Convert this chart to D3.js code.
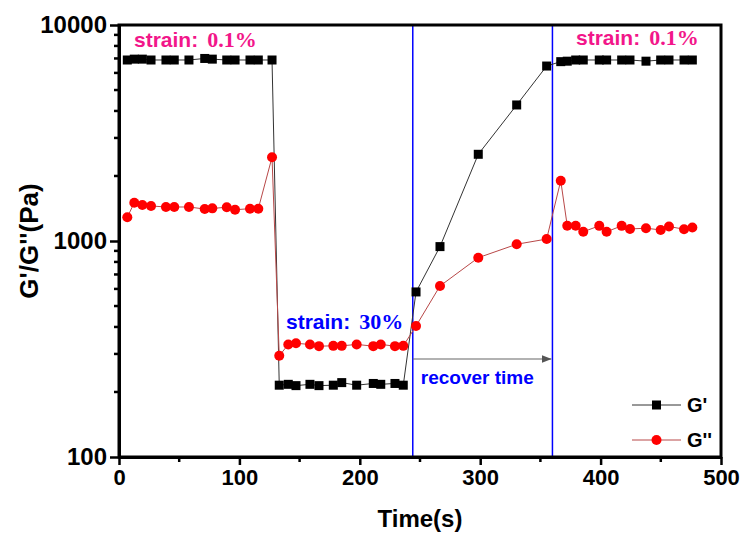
<!DOCTYPE html>
<html>
<head>
<meta charset="utf-8">
<script src="https://cdn.jsdelivr.net/npm/d3@7"></script>
<style>
  body { margin: 0; background: #fff; }
  text { font-family: "Liberation Sans", Arial, sans-serif; font-weight: bold; }
</style>
</head>
<body>
<div id="chart"></div>
<script>
// time (s) of each measurement, shared by both moduli
const time = [6.9, 12.7, 19.4, 26.6, 39, 45.9, 58.1, 71.2, 77.5, 89.5, 96.4, 108.8, 115.7, 127.1,
  133.1, 140.6, 147, 158.6, 166.1, 178, 185, 197.4, 211.2, 217.4, 229.2, 236.1,
  246.7, 266.6, 298.4, 330.3, 355.2,
  366.9, 372.3, 379.3, 385.6, 398.9, 405, 417.5, 424.4, 437.7, 449.9, 456.8, 469.3, 476.2];

const gStorage = [6886, 6950, 6950, 6886, 6886, 6886, 6886, 7000, 6950, 6886, 6886, 6886, 6886, 6886,
  215, 217, 214, 217, 214, 215, 221, 215, 219, 217, 219, 215,
  581, 942, 2520, 4264, 6457,
  6766, 6800, 6886, 6886, 6886, 6886, 6886, 6886, 6800, 6886, 6886, 6886, 6886];

const gLoss = [1288, 1504, 1468, 1453, 1437, 1437, 1437, 1406, 1416, 1432, 1396, 1411, 1411, 2441,
  294, 332, 336, 332, 326, 327, 327, 332, 326, 332, 326, 327,
  404, 619, 837, 966, 1021,
  1902, 1177, 1177, 1104, 1175, 1104, 1175, 1137, 1146, 1125, 1167, 1134, 1154];

const xTicks = [0, 100, 200, 300, 400, 500];
const xMinor = [50, 150, 250, 350, 450];
const yTicks = [100, 1000, 10000];
const yMinor = [200, 300, 400, 500, 600, 700, 800, 900, 2000, 3000, 4000, 5000, 6000, 7000, 8000, 9000];
const recoverStart = 244, recoverEnd = 360;

const W = 745, H = 539;
const margin = {top: 25, right: 24, bottom: 82, left: 119},
    width = W - margin.left - margin.right,
    height = H - margin.top - margin.bottom;

const x = d3.scaleLinear().domain([0, 500]).range([0, width]);
const y = d3.scaleLog().domain([100, 10000]).range([height, 0]);

const svg = d3.select('#chart').append('svg')
  .attr('width', W).attr('height', H)
  .append('g')
  .attr('transform', 'translate(' + margin.left + ',' + margin.top + ')');

const data = time.map((t, i) => ({t: t, gs: gStorage[i], gl: gLoss[i]}));

// recovery markers
svg.selectAll('.vline').data([recoverStart, recoverEnd]).enter().append('line')
  .attr('x1', d => x(d)).attr('x2', d => x(d))
  .attr('y1', 0).attr('y2', height)
  .attr('stroke', '#0000ff').attr('stroke-width', 1.5);

svg.append('defs').append('marker')
  .attr('id', 'arrow').attr('viewBox', '0 0 10 10')
  .attr('refX', 10).attr('refY', 5)
  .attr('markerWidth', 8).attr('markerHeight', 8)
  .attr('orient', 'auto')
  .append('path').attr('d', 'M0,1L10,5L0,9Z').attr('fill', '#555');

svg.append('line')
  .attr('x1', x(recoverStart)).attr('x2', x(recoverEnd) - 1)
  .attr('y1', 334).attr('y2', 334)
  .attr('stroke', '#666').attr('stroke-width', 1.2)
  .attr('marker-end', 'url(#arrow)');

// G' series
const line = key => d3.line().x(d => x(d.t)).y(d => y(d[key]));

svg.append('path').datum(data)
  .attr('d', line('gs'))
  .attr('fill', 'none').attr('stroke', '#333').attr('stroke-width', 1);

svg.selectAll('.sq').data(data).enter().append('rect')
  .attr('x', d => x(d.t) - 4.5).attr('y', d => y(d.gs) - 4.5)
  .attr('width', 9).attr('height', 9).attr('fill', '#000');

// G'' series
svg.append('path').datum(data)
  .attr('d', line('gl'))
  .attr('fill', 'none').attr('stroke', '#b84848').attr('stroke-width', 1);

svg.selectAll('.ci').data(data).enter().append('circle')
  .attr('cx', d => x(d.t)).attr('cy', d => y(d.gl))
  .attr('r', 5).attr('fill', '#ff0000');

// axes
const xAxis = d3.axisBottom(x).tickValues(xTicks).tickSize(8).tickSizeOuter(0).tickPadding(4);
const yAxis = d3.axisLeft(y).tickValues(yTicks).tickFormat(d3.format('d')).tickSize(9).tickSizeOuter(0).tickPadding(3);

const gx = svg.append('g').attr('transform', 'translate(0,' + height + ')').call(xAxis);
gx.selectAll('.minor').data(xMinor).enter().append('line')
  .attr('x1', d => x(d)).attr('x2', d => x(d)).attr('y1', 0).attr('y2', 5)
  .attr('stroke', '#000').attr('stroke-width', 2.5);
const gy = svg.append('g').call(yAxis);
gy.selectAll('.minor').data(yMinor).enter().append('line')
  .attr('x1', -5).attr('x2', 0).attr('y1', d => y(d)).attr('y2', d => y(d))
  .attr('stroke', '#000').attr('stroke-width', 2.5);

[gx, gy].forEach(g => {
  g.select('.domain').attr('stroke-width', 3);
  g.selectAll('.tick line').attr('stroke-width', 2.5);
  g.selectAll('.tick text').attr('fill', '#000')
    .style('font-weight', 'bold').style('font-family', '"Liberation Sans", Arial, sans-serif');
});
gx.selectAll('.tick text').attr('font-size', 22);
gy.selectAll('.tick text').attr('font-size', 24);

svg.append('rect').attr('width', width).attr('height', height)
  .attr('fill', 'none').attr('stroke', '#000').attr('stroke-width', 3);

// axis titles
svg.append('text')
  .attr('x', width / 2).attr('y', height + 70)
  .attr('text-anchor', 'middle').attr('font-size', 24)
  .text('Time(s)');

svg.append('text')
  .attr('transform', 'translate(' + (-81) + ',' + (height / 2) + ') rotate(-90)')
  .attr('text-anchor', 'middle').attr('font-size', 26)
  .text("G'/G''(Pa)");

// annotations
function strainLabel(px, py, main, val, color) {
  const t = svg.append('text').attr('x', px).attr('y', py).attr('fill', color).attr('font-size', 21);
  t.append('tspan').text(main);
  t.append('tspan').attr('dx', 9)
    .style('font-family', '"Liberation Serif", "Times New Roman", serif')
    .attr('font-size', 22).text(val);
}
strainLabel(15, 22, 'strain:', '0.1%', '#f2168a');
strainLabel(457, 19.5, 'strain:', '0.1%', '#f2168a');
strainLabel(167, 304, 'strain:', '30%', '#0000ff');

svg.append('text')
  .attr('x', x(recoverStart) + 8).attr('y', 359)
  .attr('fill', '#0000ff').attr('font-size', 19)
  .text('recover time');

// legend
const legend = svg.append('g').attr('transform', 'translate(513,380)');
legend.append('line').attr('x1', 0).attr('x2', 49).attr('y1', 0).attr('y2', 0)
  .attr('stroke', '#333').attr('stroke-width', 1);
legend.append('rect').attr('x', 20).attr('y', -4.5).attr('width', 9).attr('height', 9).attr('fill', '#000');
legend.append('text').attr('x', 55).attr('y', 7).attr('font-size', 20).text("G'");
legend.append('line').attr('x1', 0).attr('x2', 49).attr('y1', 35).attr('y2', 35)
  .attr('stroke', '#b84848').attr('stroke-width', 1);
legend.append('circle').attr('cx', 24.5).attr('cy', 35).attr('r', 5).attr('fill', '#ff0000');
legend.append('text').attr('x', 55).attr('y', 42).attr('font-size', 20).text("G''");
</script>
</body>
</html>
